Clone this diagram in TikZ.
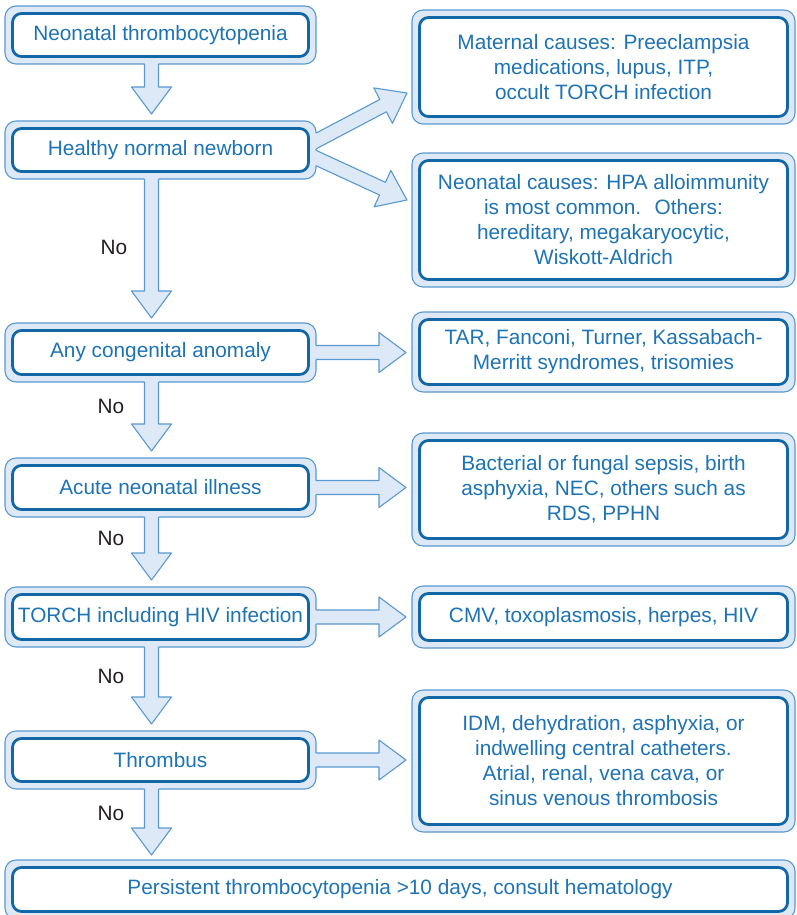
\documentclass[tikz,border=0pt]{standalone}
\usepackage{fontspec}
\setmainfont{Liberation Sans}
\usetikzlibrary{calc}

\definecolor{txtblue}{RGB}{30,115,180}
\definecolor{rimblue}{RGB}{18,104,166}
\definecolor{paleblue}{RGB}{221,233,246}
\definecolor{edgeblue}{RGB}{90,152,208}
\definecolor{nocol}{RGB}{35,31,32}

\tikzset{
  outerbox/.style={draw=edgeblue, fill=paleblue, line width=1.1pt,
    rounded corners=11pt, inner sep=0pt, outer sep=0pt},
  innerbox/.style={draw=rimblue, fill=white, line width=2.8pt,
    rounded corners=9pt, inner sep=0pt, outer sep=0pt, align=center,
    text=txtblue, font=\fontsize{20.8}{25}\selectfont},
  arrowfill/.style={fill=paleblue},
  arrowline/.style={draw=edgeblue, line width=1.1pt, line join=round},
  nolabel/.style={text=nocol, font=\fontsize{20.8}{25}\selectfont},
}

% double-framed box: name, x1, y1, x2, y2, text
\newcommand\flowbox[6]{%
  \node[outerbox, minimum width={#4-#2}, minimum height={#5-#3}]
    (#1) at ({(#2+#4)/2},{(#3+#5)/2}) {};
  \node[innerbox, minimum width={#4-#2-15}, minimum height={#5-#3-15}]
    (#1in) at (#1.center) {#6};
}

% block arrow: edge point A, edge point B, start, tip, shift into the box
\newcommand\blockarrow[5]{%
  \coordinate (baEA) at (#1);
  \coordinate (baEB) at (#2);
  \coordinate (baS) at (#3);
  \coordinate (baT) at (#4);
  \coordinate (baH) at ($(baT)!27pt!(baS)$);
  \coordinate (baSa) at ($(baS)!7pt!90:(baT)$);
  \coordinate (baSb) at ($(baS)!7pt!-90:(baT)$);
  \coordinate (baHa) at ($(baH)!7pt!90:(baT)$);
  \coordinate (baHb) at ($(baH)!7pt!-90:(baT)$);
  \coordinate (baBa) at ($(baH)!20pt!90:(baT)$);
  \coordinate (baBb) at ($(baH)!20pt!-90:(baT)$);
  \coordinate (baEa) at (intersection of baSa--baHa and baEA--baEB);
  \coordinate (baEb) at (intersection of baSb--baHb and baEA--baEB);
  \fill[arrowfill] ($(baEa)+#5$) -- (baEa) -- (baHa) -- (baBa) -- (baT)
    -- (baBb) -- (baHb) -- (baEb) -- ($(baEb)+#5$) -- cycle;
  \draw[arrowline] (baEa) -- (baHa) -- (baBa) -- (baT) -- (baBb)
    -- (baHb) -- (baEb);
}

\begin{document}
\begin{tikzpicture}[x=1pt, y=-1pt]
\useasboundingbox (0,0) rectangle (796,915);

% left column
\flowbox{b1}{5}{6}{316}{64}{Neonatal thrombocytopenia}
\flowbox{b2}{5}{121}{316}{179}{Healthy normal newborn}
\flowbox{b3}{5}{323}{316}{382}{Any congenital anomaly}
\flowbox{b4}{5}{458}{316}{517}{Acute neonatal illness}
\flowbox{b5}{5}{587}{316}{647}{TORCH including HIV infection}
\flowbox{b6}{5}{731}{316}{789}{Thrombus}
\flowbox{b7}{5}{860}{795}{919}{Persistent thrombocytopenia >10 days, consult hematology}

% right column
\flowbox{ra}{412}{10}{795}{124}{Maternal causes: Preeclampsia\\medications, lupus, ITP,\\occult TORCH infection}
\flowbox{rb}{412}{153}{795}{287}{Neonatal causes: HPA alloimmunity\\is most common.~ Others:\\hereditary, megakaryocytic,\\Wiskott-Aldrich}
\flowbox{rc}{412}{312}{795}{392}{TAR, Fanconi, Turner, Kassabach-\\Merritt syndromes, trisomies}
\flowbox{rd}{412}{433}{795}{546}{Bacterial or fungal sepsis, birth\\asphyxia, NEC, others such as\\RDS, PPHN}
\flowbox{re}{412}{586}{795}{648}{CMV, toxoplasmosis, herpes, HIV}
\flowbox{rf}{412}{690}{795}{832}{IDM, dehydration, asphyxia, or\\indwelling central catheters.\\Atrial, renal, vena cava, or\\sinus venous thrombosis}

% downward arrows
\blockarrow{b1.south west}{b1.south east}{$(b1.south)+(-9,0)$}{$(b2.north)+(-9,-7)$}{(0,-3)}
\blockarrow{b2.south west}{b2.south east}{$(b2.south)+(-9,0)$}{$(b3.north)+(-9,-5)$}{(0,-3)}
\blockarrow{b3.south west}{b3.south east}{$(b3.south)+(-9,0)$}{$(b4.north)+(-9,-7)$}{(0,-3)}
\blockarrow{b4.south west}{b4.south east}{$(b4.south)+(-9,0)$}{$(b5.north)+(-9,-7)$}{(0,-3)}
\blockarrow{b5.south west}{b5.south east}{$(b5.south)+(-9,0)$}{$(b6.north)+(-9,-7)$}{(0,-3)}
\blockarrow{b6.south west}{b6.south east}{$(b6.south)+(-9,0)$}{$(b6.south|-b7.north)+(-9,-5)$}{(0,-3)}

% arrows to the right
\blockarrow{b2.north east}{b2.south east}{$(b2.east)+(0,-9)$}{$(ra.west)+(-5,26)$}{(-3,0)}
\blockarrow{b2.north east}{b2.south east}{$(b2.east)+(0,8)$}{$(rb.west)+(-5,-20)$}{(-3,0)}
\blockarrow{b3.north east}{b3.south east}{b3.east}{$(b3.east-|rc.west)+(-6,0)$}{(-3,0)}
\blockarrow{b4.north east}{b4.south east}{b4.east}{$(b4.east-|rd.west)+(-6,0)$}{(-3,0)}
\blockarrow{b5.north east}{b5.south east}{b5.east}{$(b5.east-|re.west)+(-6,0)$}{(-3,0)}
\blockarrow{b6.north east}{b6.south east}{b6.east}{$(b6.east-|rf.west)+(-6,0)$}{(-3,0)}

% branch labels
\node[nolabel] (no1) at (114,247) {No};
\node[nolabel] (no2) at (111,406) {No};
\node[nolabel] (no3) at (111,538) {No};
\node[nolabel] (no4) at (111,676) {No};
\node[nolabel] (no5) at (111,813) {No};
\end{tikzpicture}
\end{document}
